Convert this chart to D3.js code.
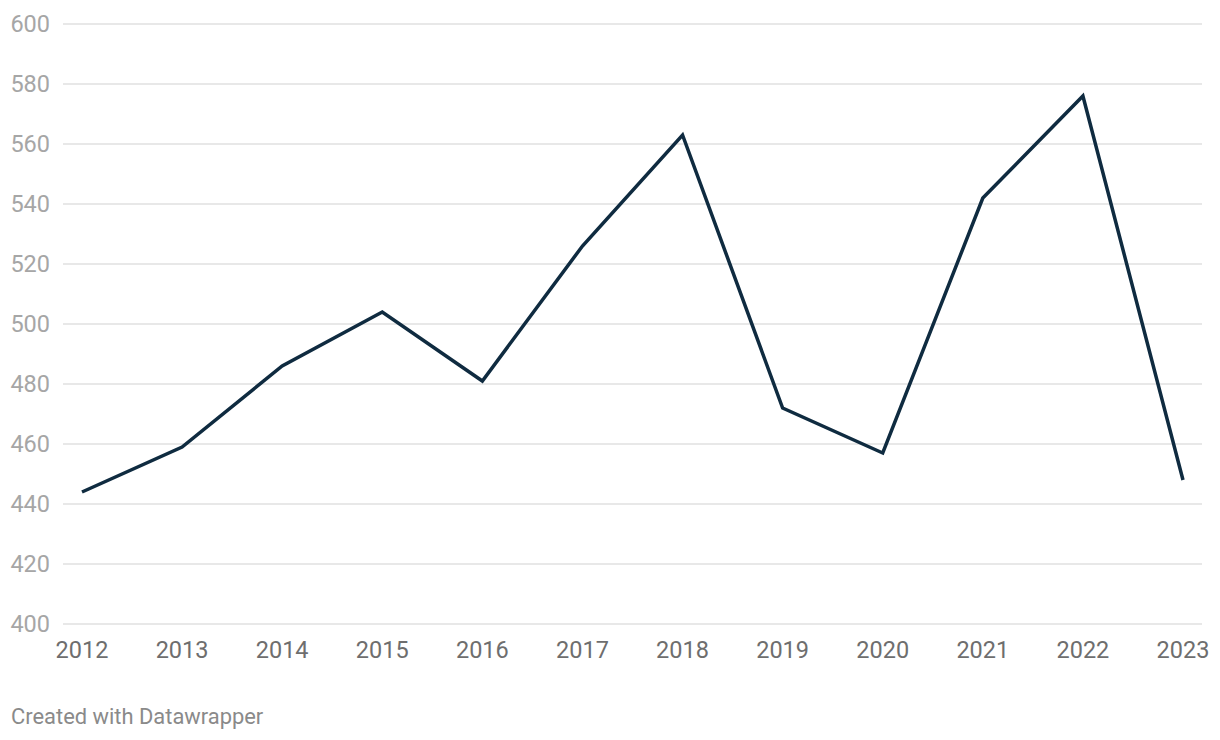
<!DOCTYPE html>
<html><head><meta charset="utf-8">
<script src="https://cdn.jsdelivr.net/npm/d3@7"></script>
<style>body{margin:0;background:#fff;font-family:Roboto,sans-serif;}</style>
</head><body><svg id="c" width="1220" height="740"></svg>
<script>
const years = ["2012","2013","2014","2015","2016","2017","2018","2019","2020","2021","2022","2023"];
const values = [444,459,486,504,481,526,563,472,457,542,576,448];
const yTicks = [400,420,440,460,480,500,520,540,560,580,600];

const svg = d3.select("#c");
const x = d3.scalePoint().domain(years).range([82,1183]);
const y = d3.scaleLinear().domain([400,600]).range([624,24]);

const grid = svg.append("g");
grid.selectAll("line").data(yTicks).join("line")
  .attr("x1",63).attr("x2",1202)
  .attr("y1",d=>y(d)).attr("y2",d=>y(d))
  .attr("stroke","#e0e0e0").attr("stroke-width",1.3);
grid.selectAll("text").data(yTicks).join("text")
  .attr("x",50).attr("y",d=>y(d)+8.3)
  .attr("text-anchor","end").attr("font-size",23.5).attr("fill","#a6a6a6")
  .text(d=>d);

svg.append("g").selectAll("text").data(years).join("text")
  .attr("x",d=>x(d)).attr("y",658)
  .attr("text-anchor","middle").attr("font-size",23.5).attr("fill","#6e6e6e")
  .text(d=>d);

const line = d3.line().x((d,i)=>x(years[i])).y(d=>y(d));
svg.append("path").datum(values).attr("d",line)
  .attr("fill","none").attr("stroke","#0f2b40").attr("stroke-width",3.5)
  .attr("stroke-linejoin","miter");

svg.append("text").attr("x",11).attr("y",724).attr("font-size",21.9)
  .attr("fill","#8a8a8a").text("Created with Datawrapper");
</script></body></html>
